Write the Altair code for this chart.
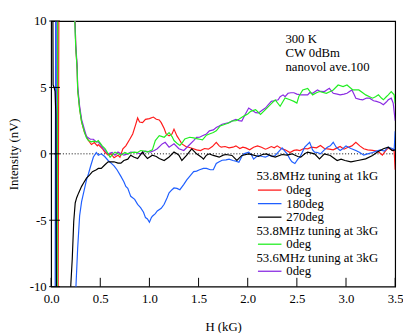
import altair as alt
import pandas as pd

# ---------------- data ----------------
red_h = [0.0, 0.07, 0.08, 0.23, 0.245, 0.25, 0.265, 0.27, 0.29, 0.31, 0.34, 0.38, 0.41, 0.44, 0.47,
         0.48, 0.52, 0.55, 0.58, 0.61, 0.64, 0.68, 0.7, 0.73, 0.76, 0.8, 0.83, 0.86, 0.88, 0.9, 0.93,
         0.96, 1.0, 1.04, 1.07, 1.1, 1.12, 1.15, 1.17, 1.2, 1.23, 1.25, 1.28, 1.31, 1.33, 1.37, 1.4,
         1.44, 1.48, 1.52, 1.56, 1.6, 1.64, 1.68, 1.71, 1.73, 1.77, 1.81, 1.85, 1.88, 1.92, 1.95,
         1.98, 2.02, 2.06, 2.1, 2.14, 2.18, 2.2, 2.24, 2.27, 2.3, 2.34, 2.38, 2.43, 2.47, 2.5, 2.53,
         2.57, 2.61, 2.65, 2.7, 2.74, 2.78, 2.83, 2.87, 2.91, 2.94, 2.98, 3.02, 3.06, 3.1, 3.14, 3.18,
         3.22, 3.27, 3.31, 3.34, 3.37, 3.4, 3.43, 3.47, 3.49, 3.5]
red_v = [-15, -15, 15, 15, 10, 8.1, 6.4, 4.9, 3.4, 2.4, 1.6, 1.0, 0.7, 0.85, 0.6,
         0.7, 0.4, 0.1, -0.1, 0.0, -0.3, -0.1, -0.25, 0.38, 0.6, 1.1, 1.5, 2.2, 2.7, 2.4, 2.35,
         2.6, 2.65, 2.77, 2.6, 2.55, 2.35, 1.9, 1.5, 1.35, 1.5, 1.86, 1.35, 1.0, 0.75, 0.55, 0.5,
         0.4, 0.3, 0.25, 0.4, 0.35, 0.55, 0.87, 0.6, 0.5, 0.55, 0.45, 0.5, 0.6, 0.4, 0.5,
         0.45, 0.3, 0.5, 0.6, 0.5, 0.35, 0.4, 0.55, 0.45, 0.6, 0.4, 0.3, 0.1, 0.26, 0.3, 0.25,
         0.4, 0.38, 0.5, 0.45, 0.63, 0.4, 0.35, 0.3, 0.45, 0.55, 0.35, 0.5, 0.6, 0.87, 0.6, 0.38,
         0.3, 0.26, 0.2, 0.1, -0.1, 0.2, 0.45, 0.3, 0.2, -1.2]

blue_h = [0.0, 0.04, 0.047, 0.05, 0.056, 0.245, 0.253, 0.27, 0.29, 0.31, 0.33, 0.36, 0.38, 0.4,
          0.43, 0.46, 0.48, 0.51, 0.545, 0.58, 0.61, 0.64, 0.67, 0.71, 0.74, 0.76, 0.78, 0.81,
          0.85, 0.88, 0.91, 0.94, 0.96, 0.98, 1.0, 1.02, 1.03, 1.06, 1.08, 1.12, 1.15, 1.18, 1.2,
          1.23, 1.25, 1.28, 1.31, 1.35, 1.38, 1.42, 1.45, 1.48, 1.51, 1.55, 1.58, 1.62, 1.65, 1.68,
          1.71, 1.74, 1.78, 1.81, 1.85, 1.88, 1.91, 1.94, 1.96, 2.01, 2.04, 2.06, 2.09, 2.11, 2.15,
          2.18, 2.22, 2.25, 2.28, 2.32, 2.35, 2.4, 2.43, 2.45, 2.48, 2.51, 2.53, 2.56, 2.58, 2.63,
          2.66, 2.68, 2.71, 2.74, 2.78, 2.81, 2.84, 2.87, 2.9, 2.94, 2.97, 3.0, 3.05, 3.1, 3.14,
          3.18, 3.22, 3.27, 3.31, 3.35, 3.39, 3.43, 3.47, 3.49, 3.5]
blue_v = [-15, -15, 15, 15, -15, -15, -9.9, -7.1, -4.66, -3.6, -2.94, -1.96, -1.5, -0.97,
          -0.24, 0.1, -0.1, 0.0, -0.2, -0.5, -0.7, -0.9, -1.2, -1.7, -2.1, -2.45, -2.6, -3.2,
          -3.43, -3.8, -4.05, -4.4, -4.8, -4.9, -5.15, -4.8, -4.7, -4.5, -4.3, -4.1, -3.8, -3.3, -2.94,
          -2.7, -2.57, -2.6, -2.7, -2.3, -1.96, -1.6, -1.34, -1.3, -1.2, -1.1, -1.1, -1.2, -1.2, -0.73,
          -0.6, -0.48, -0.45, -0.4, -0.5, -0.55, -0.63, -0.2, 0.0, 0.12, -0.1, -0.4, -0.2, -0.12, -0.2,
          -0.25, -0.1, -0.2, -0.12, 0.2, 0.45, 0.0, -0.4, -0.6, -0.73, -0.4, -0.25, 0.2, 0.5, 0.87,
          0.3, 0.13, 0.1, 0.0, 0.3, 0.5, 0.6, 0.87, 0.5, 0.25, 0.4, 0.6, 0.4, 0.25, 0.1,
          -0.1, 0.0, 0.1, 0.2, 0.3, 0.2, 0.5, 0.4, 0.3, 1.7]

black_h = [0.0, 0.016, 0.02, 0.03, 0.04, 0.048, 0.056, 0.19, 0.2, 0.215, 0.23, 0.245, 0.26, 0.28,
           0.31, 0.33, 0.36, 0.39, 0.42, 0.46, 0.48, 0.51, 0.55, 0.58, 0.61, 0.64, 0.68, 0.71, 0.74,
           0.78, 0.81, 0.84, 0.88, 0.93, 0.95, 0.98, 1.03, 1.07, 1.1, 1.15, 1.2, 1.25, 1.28, 1.3,
           1.33, 1.38, 1.43, 1.48, 1.53, 1.55, 1.58, 1.61, 1.65, 1.71, 1.75, 1.78, 1.84, 1.89, 1.94,
           2.01, 2.06, 2.11, 2.15, 2.19, 2.24, 2.28, 2.35, 2.4, 2.45, 2.51, 2.54, 2.58, 2.61, 2.68,
           2.73, 2.78, 2.84, 2.91, 2.95, 2.99, 3.05, 3.12, 3.2, 3.27, 3.32, 3.38, 3.43, 3.47, 3.5]
black_v = [15, 15, 5.2, 5.0, 4.7, 3.0, -15, -15, -9.9, -7.9, -5.1, -3.7, -3.3, -2.94,
           -2.45, -2.2, -1.83, -1.6, -1.34, -1.2, -1.1, -1.1, -0.8, -0.6, -0.6, -0.6, -0.7, -0.7, -0.5,
           -0.4, -0.1, -0.24, -0.35, 0.13, -0.1, -0.35, -0.1, -0.2, -0.35, -0.5, -0.24, 0.13, 0.0, -0.1,
           -0.5, -0.1, 0.38, 0.0, -0.25, -0.4, -0.1, 0.0, -0.12, -0.25, -0.1, -0.05, -0.12, -0.5, -0.12,
           0.0, -0.1, -0.2, -0.05, 0.0, -0.15, -0.25, -0.05, -0.1, 0.0, -0.2, -0.25, 0.0, 0.13, 0.0,
           -0.38, 0.0, -0.12, -0.5, -0.4, -0.5, -0.6, -0.5, -0.38, -0.12, 0.13, 0.38, 0.5, 0.25, 0.3]

purple_h = [0.0, 0.055, 0.062, 0.23, 0.242, 0.25, 0.265, 0.27, 0.29, 0.31, 0.34, 0.36, 0.38, 0.4,
            0.43, 0.46, 0.48, 0.53, 0.58, 0.62, 0.65, 0.68, 0.71, 0.74, 0.78, 0.81, 0.86, 0.91, 0.96,
            1.01, 1.05, 1.08, 1.13, 1.16, 1.2, 1.25, 1.3, 1.35, 1.4, 1.45, 1.48, 1.51, 1.54, 1.58,
            1.61, 1.65, 1.68, 1.71, 1.74, 1.78, 1.81, 1.85, 1.88, 1.91, 1.94, 1.97, 2.01, 2.04, 2.06,
            2.08, 2.11, 2.15, 2.18, 2.21, 2.24, 2.27, 2.31, 2.33, 2.36, 2.38, 2.41, 2.44, 2.47, 2.5,
            2.54, 2.58, 2.61, 2.63, 2.66, 2.71, 2.74, 2.78, 2.83, 2.87, 2.91, 2.94, 2.98, 3.01, 3.06,
            3.08, 3.1, 3.14, 3.17, 3.21, 3.24, 3.28, 3.31, 3.35, 3.38, 3.41, 3.43, 3.46, 3.48, 3.5]
purple_v = [-15, -15, 15, 15, 10.2, 8.3, 6.6, 5.1, 3.6, 2.6, 1.8, 1.3, 1.2, 1.1,
            1.1, 0.9, 0.9, 0.4, 0.0, 0.1, -0.1, 0.13, 0.0, -0.1, 0.0, 0.13, 0.1, 0.0, 0.2,
            0.13, 0.25, 0.38, 0.75, 0.87, 0.5, 0.75, 0.38, 0.25, 0.63, 1.0, 1.24, 1.25, 1.36, 1.5,
            1.73, 1.8, 1.98, 2.1, 2.23, 2.3, 2.35, 2.5, 2.6, 2.5, 2.47, 2.9, 3.45, 3.3, 3.2,
            3.1, 3.08, 3.3, 3.45, 3.7, 3.95, 4.0, 4.07, 4.3, 4.44, 4.3, 4.56, 4.6, 4.6, 4.5,
            4.44, 4.44, 4.44, 4.6, 4.56, 4.81, 4.7, 4.69, 4.93, 4.56, 4.5, 4.44, 4.5, 4.56, 4.81,
            4.5, 4.19, 4.1, 4.07, 4.2, 4.19, 4.0, 3.95, 3.85, 3.7, 3.9, 4.07, 4.19, 3.82, 2.5]

green_h = [0.0, 0.06, 0.068, 0.23, 0.24, 0.25, 0.265, 0.27, 0.29, 0.31, 0.34, 0.36, 0.38, 0.41,
           0.43, 0.46, 0.48, 0.52, 0.55, 0.6, 0.63, 0.65, 0.68, 0.71, 0.75, 0.78, 0.82, 0.85, 0.88,
           0.91, 0.95, 0.98, 1.03, 1.06, 1.1, 1.13, 1.15, 1.2, 1.23, 1.25, 1.28, 1.31, 1.34, 1.36,
           1.41, 1.45, 1.48, 1.51, 1.54, 1.58, 1.61, 1.65, 1.68, 1.72, 1.77, 1.8, 1.84, 1.88, 1.91,
           1.96, 2.0, 2.03, 2.08, 2.13, 2.18, 2.23, 2.28, 2.33, 2.38, 2.43, 2.47, 2.5, 2.52, 2.56,
           2.61, 2.66, 2.7, 2.73, 2.8, 2.84, 2.87, 2.92, 2.97, 3.01, 3.04, 3.07, 3.13, 3.17, 3.2,
           3.24, 3.27, 3.3, 3.33, 3.36, 3.38, 3.41, 3.43, 3.46, 3.49, 3.5]
green_v = [-15, -15, 15, 15, 10.1, 8.1, 6.3, 4.8, 3.35, 2.4, 1.6, 1.2, 1.0, 0.9,
           0.95, 0.9, 1.0, 0.6, 0.38, -0.25, 0.0, 0.13, 0.0, -0.1, 0.1, 0.0, 0.1, 0.13, 0.1,
           0.25, 0.2, 0.13, 0.3, 1.0, 1.37, 1.3, 1.25, 1.6, 1.3, 1.0, 0.8, 0.63, 0.9, 1.12,
           1.25, 1.2, 1.15, 1.1, 1.05, 1.4, 1.49, 1.6, 1.73, 2.1, 2.23, 2.3, 2.47, 2.5, 2.6,
           2.84, 3.0, 3.2, 3.33, 2.96, 3.33, 3.7, 4.07, 3.58, 4.2, 4.07, 3.95, 3.82, 4.32, 4.81,
           4.93, 4.44, 4.6, 4.69, 4.56, 4.7, 4.81, 5.18, 5.06, 5.18, 5.0, 4.81, 4.81, 4.6, 4.44,
           4.3, 4.19, 4.3, 4.44, 4.2, 4.07, 4.3, 4.44, 4.69, 4.44, 3.8]

x_ticks = [0.0, 0.5, 1.0, 1.5, 2.0, 2.5, 3.0, 3.5]
y_ticks = [-10, -5, 0, 5, 10]

notes = ["300 K", "CW 0dBm", "nanovol ave.100"]
legend_rows = [("head", "53.8MHz tuning at 1kG", ""),
               ("item", "0deg", "#ff1a1a"),
               ("item", "180deg", "#1f5fff"),
               ("item", "270deg", "#000000"),
               ("head", "53.8MHz tuning at 3kG", ""),
               ("item", "0deg", "#22ee22"),
               ("head", "53.6MHz tuning at 3kG", ""),
               ("item", "0deg", "#8a2be2")]

# ---------------- chart ----------------
W, H = 351, 271
FONT = "Liberation Serif"
xs = alt.Scale(domain=[0, 3.5], nice=False, zero=False)
ys = alt.Scale(domain=[-10, 10], nice=False, zero=False)

x_axis = alt.Axis(values=x_ticks, format=".1f", tickSize=0, domain=False, grid=False,
                  labelFlush=False, labelOverlap=False,
                  labelFont=FONT, labelFontSize=13, labelColor="black", labelPadding=6,
                  title="H (kG)", titleFont=FONT, titleFontSize=13, titleFontWeight="normal",
                  titleColor="black", titlePadding=16)
y_axis = alt.Axis(values=y_ticks, labelExpr="'' + datum.value", tickSize=0, domain=False, grid=False,
                  labelFlush=False, labelOverlap=False,
                  labelFont=FONT, labelFontSize=13, labelColor="black", labelPadding=5,
                  title="Intensity (nV)", titleFont=FONT, titleFontSize=13, titleFontWeight="normal",
                  titleColor="black", titleX=-31, titleY=H / 2)

X = lambda f: alt.X(f, scale=xs, axis=x_axis)
Y = lambda f: alt.Y(f, scale=ys, axis=y_axis)


def series(hs, vs, color):
    df = pd.DataFrame({"h": hs, "v": vs, "i": list(range(len(hs)))})
    return alt.Chart(df).mark_line(color=color, strokeWidth=1.2, clip=True).encode(
        x=X("h:Q"), y=Y("v:Q"), order=alt.Order("i:Q"))


zero_line = alt.Chart(pd.DataFrame({"h": [0.0], "h2": [3.5], "v": [0]})).mark_rule(
    color="black", strokeDash=[1, 2], strokeWidth=1).encode(
    x=X("h:Q"), x2="h2:Q", y=Y("v:Q"))

layers = [
    zero_line,
    series(red_h, red_v, "#ff1a1a"),
    series(blue_h, blue_v, "#1f5fff"),
    series(purple_h, purple_v, "#8a2be2"),
    series(green_h, green_v, "#22ee22"),
    series(black_h, black_v, "#000000"),
]

# inward tick marks
xt = alt.Chart(pd.DataFrame({"h": x_ticks})).mark_rule(color="black", strokeWidth=1).encode(
    x=X("h:Q"), y=alt.value(H), y2=alt.value(H - 9))
yt = alt.Chart(pd.DataFrame({"v": y_ticks})).mark_rule(color="black", strokeWidth=1).encode(
    y=Y("v:Q"), x=alt.value(-2), x2=alt.value(9))
layers += [xt, yt]


def label(txt, px, py):
    return alt.Chart(pd.DataFrame({"t": [txt]})).mark_text(
        align="left", baseline="middle", font=FONT, fontSize=13, color="black").encode(
        x=alt.value(px), y=alt.value(py), text="t:N")


# annotation text (top right)
for i, t in enumerate(notes):
    layers.append(label(t, 239, 18 + 14.5 * i))

# legend
for i, (kind, txt, col) in enumerate(legend_rows):
    py = 158.7 + i * 13.8
    if kind == "head":
        layers.append(label(txt, 209.5, py))
    else:
        layers.append(label(txt, 240, py))
        layers.append(alt.Chart(pd.DataFrame({"t": [txt]})).mark_rule(
            color=col, strokeWidth=1.3).encode(
            x=alt.value(211), x2=alt.value(235), y=alt.value(py)))

chart = alt.layer(*layers).properties(
    width=W, height=H,
    autosize="none",
    padding={"left": 44, "top": 10, "right": 8, "bottom": 44},
    background="white",
).configure_view(stroke="black", strokeWidth=1.2)

chart.save("out.html", embed_options={"renderer": "svg", "actions": False})
